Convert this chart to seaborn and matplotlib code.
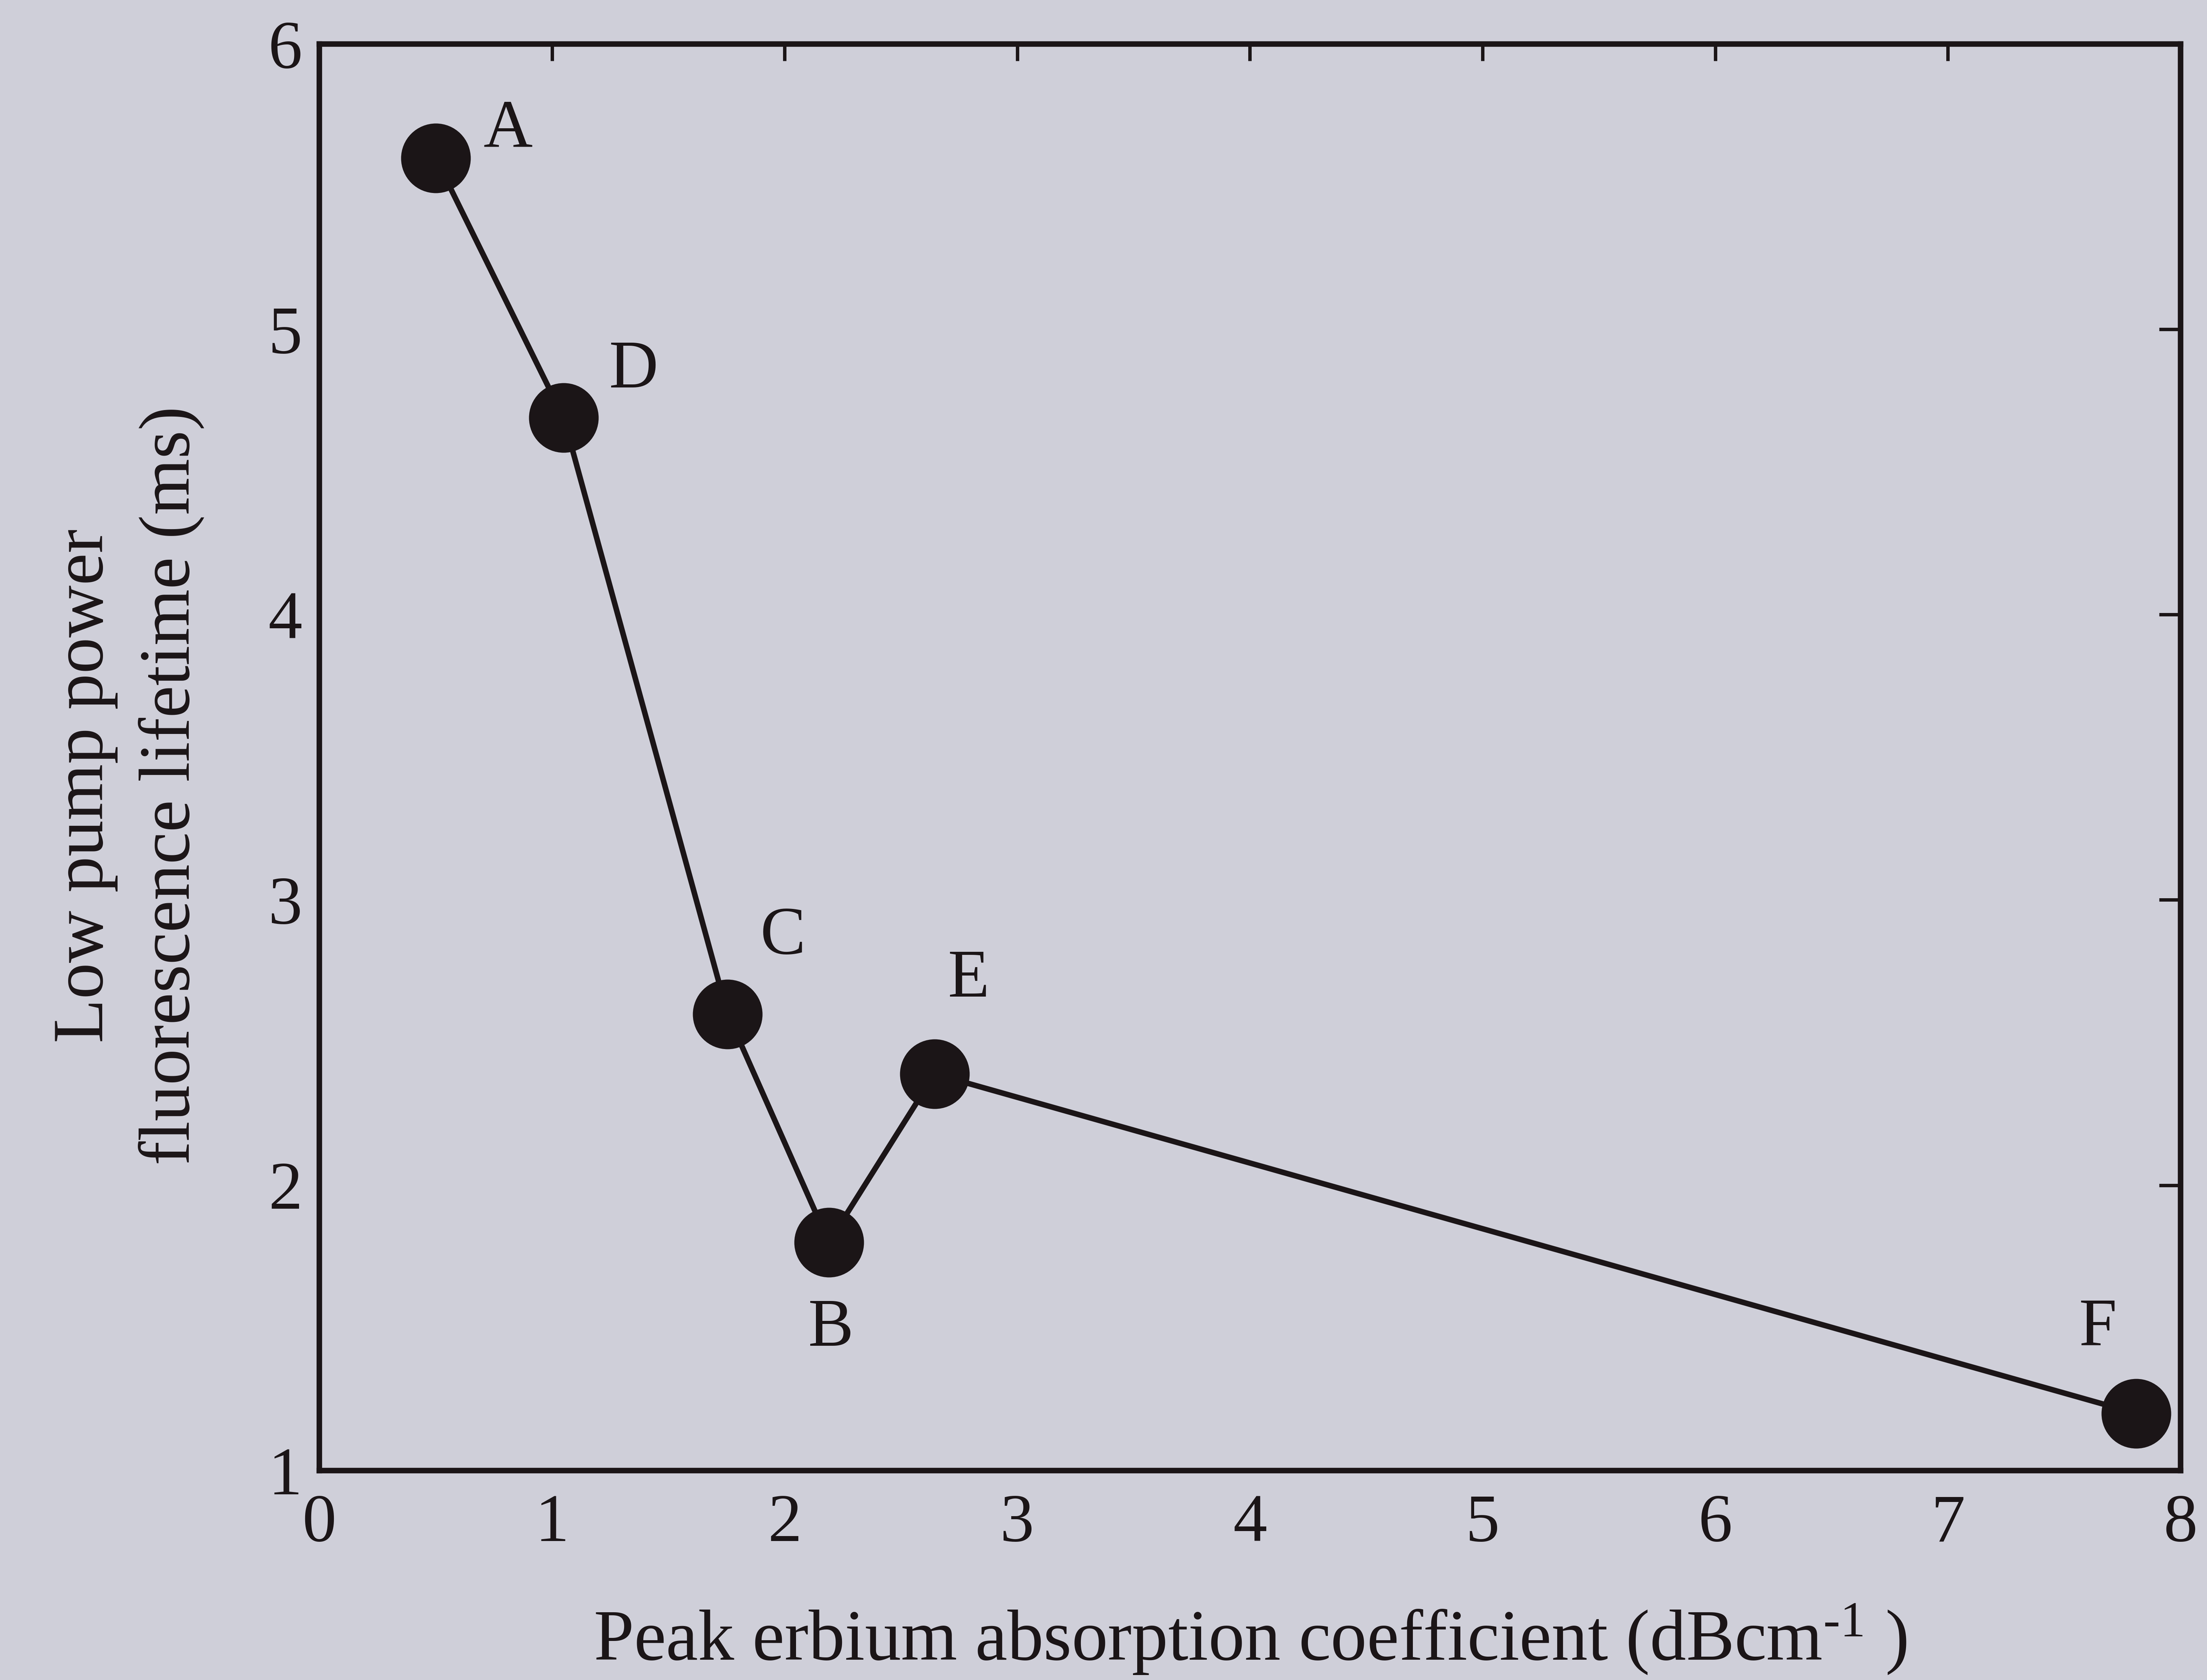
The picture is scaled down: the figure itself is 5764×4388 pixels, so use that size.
"""Fluorescence lifetime vs peak erbium absorption"""

import matplotlib
matplotlib.use('Agg')
import matplotlib.pyplot as plt
import seaborn as sns
import pandas as pd

# data
samples = ['A', 'D', 'C', 'B', 'E', 'F']
absorption = [0.50, 1.05, 1.755, 2.19, 2.645, 7.81]
lifetime = [5.60, 4.69, 2.60, 1.80, 2.39, 1.20]
x_ticks = [0, 1, 2, 3, 4, 5, 6, 7, 8]
y_ticks = [1, 2, 3, 4, 5, 6]

# label offsets in points (layout only)
label_offsets = {'A': (34, 13), 'D': (33, 22), 'C': (26, 36),
                 'B': (1, -41), 'E': (16, 44), 'F': (-18, 40)}

bg = '#cfcfd9'
ink = '#1b1517'

sns.set_style('white')
plt.rcParams['font.family'] = ['Liberation Serif', 'DejaVu Serif']
plt.rcParams['mathtext.fontset'] = 'custom'
plt.rcParams['mathtext.rm'] = 'Liberation Serif'
plt.rcParams['mathtext.it'] = 'Liberation Serif:italic'
plt.rcParams['mathtext.default'] = 'regular'

df = pd.DataFrame({'sample': samples, 'absorption': absorption, 'lifetime': lifetime})

fig = plt.figure(figsize=(14.41, 10.97), dpi=400, facecolor=bg)
ax = fig.add_axes([0.1447, 0.1247, 0.8433, 0.8491])
ax.set_facecolor(bg)

sns.lineplot(data=df, x='absorption', y='lifetime', ax=ax, color=ink,
             linewidth=2.6, marker='o', markersize=32, markeredgecolor=ink,
             markerfacecolor=ink, sort=False)

for s, x, y in zip(samples, absorption, lifetime):
    dx, dy = label_offsets[s]
    ax.annotate(s, (x, y), xytext=(dx, dy), textcoords='offset points',
                ha='center', va='center', fontsize=32, color=ink)

ax.set_xlim(0, 8)
ax.set_ylim(1, 6)
ax.set_xticks(x_ticks)
ax.set_yticks(y_ticks)
ax.tick_params(direction='in', width=1.6, colors=ink, labelsize=32,
               top=True, right=True)
ax.tick_params(axis='x', pad=11, length=8)
ax.tick_params(axis='y', pad=8, length=10)
for sp in ax.spines.values():
    sp.set_linewidth(2.6)
    sp.set_color(ink)

ax.set_xlabel(r'Peak erbium absorption coefficient (dBcm$^{\text{-1}}$ )', fontsize=34,
              color=ink, labelpad=22)
ax.set_ylabel('Low pump power\nfluorescence lifetime (ms)', fontsize=34,
              color=ink, labelpad=30, multialignment='center', linespacing=1.4)
ax.yaxis.label.set_y(0.48)

fig.savefig('out.png', dpi=400, facecolor=bg)
